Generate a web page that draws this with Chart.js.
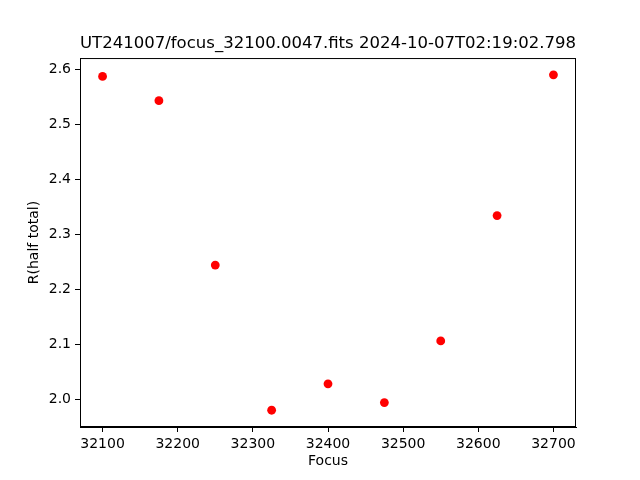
<!DOCTYPE html>
<html>
<head>
<meta charset="utf-8">
<script src="https://cdn.jsdelivr.net/npm/chart.js@4"></script>
<style>
  body { margin: 0; background: #fff; }
</style>
</head>
<body>
<canvas id="focus" width="640" height="480"></canvas>
<script>
// focus positions and measured half-total radius
const focus = [32100, 32175, 32250, 32325, 32400, 32475, 32550, 32625, 32700];
const rHalf = [2.587, 2.543, 2.244, 1.980, 2.028, 1.994, 2.106, 2.334, 2.590];
const xTicks = [32100, 32200, 32300, 32400, 32500, 32600, 32700];
const yTicks = [2.0, 2.1, 2.2, 2.3, 2.4, 2.5, 2.6];
const titleText = 'UT241007/focus_32100.0047.fits 2024-10-07T02:19:02.798';

Chart.defaults.font.family = 'DejaVu Sans';
Chart.defaults.color = '#000';

// matplotlib style box around the axes
const frame = {
    id: 'frame',
    afterDraw(chart) {
        const a = chart.chartArea;
        const c = chart.ctx;
        c.save();
        c.strokeStyle = '#000';
        c.lineWidth = 1;
        c.strokeRect(a.left + 0.5, a.top + 0.5, a.right - a.left - 1, a.bottom - a.top - 1);
        c.restore();
    }
};

const points = focus.map((f, i) => ({x: f, y: rHalf[i]}));

const ctx = document.getElementById('focus').getContext('2d');
const myChart = new Chart(ctx, {
    type: 'scatter',
    data: {
        datasets: [{
            data: points,
            backgroundColor: '#ff0000',
            borderWidth: 0,
            pointRadius: 4.4,
            pointHoverRadius: 4.4
        }]
    },
    options: {
        responsive: false,
        animation: false,
        layout: { padding: { left: 0, right: 64, top: 0, bottom: 0 } },
        plugins: {
            legend: { display: false },
            tooltip: { enabled: false },
            title: {
                display: true,
                text: titleText,
                fullSize: false,
                font: { size: 16.7, weight: 'normal' },
                padding: { top: 34, bottom: 4 }
            }
        },
        scales: {
            x: {
                type: 'linear',
                min: 32070,
                max: 32730,
                afterFit: s => { s.height = 53; },
                afterBuildTicks: s => { s.ticks = xTicks.map(v => ({value: v})); },
                ticks: {
                    font: { size: 14 },
                    padding: 4,
                    maxRotation: 0,
                    callback: v => String(v)
                },
                grid: { drawOnChartArea: false, drawTicks: true, tickLength: 5, color: '#000' },
                border: { color: '#000' },
                title: {
                    display: true,
                    text: 'Focus',
                    font: { size: 14 },
                    padding: { top: 0, bottom: 10 }
                }
            },
            y: {
                type: 'linear',
                min: 1.9495,
                max: 2.6205,
                afterFit: s => { s.width = 80; },
                afterBuildTicks: s => { s.ticks = yTicks.map(v => ({value: v})); },
                ticks: {
                    font: { size: 14 },
                    padding: 4,
                    callback: v => v.toFixed(1)
                },
                grid: { drawOnChartArea: false, drawTicks: true, tickLength: 5, color: '#000' },
                border: { color: '#000' },
                title: {
                    display: true,
                    text: 'R(half total)',
                    font: { size: 14 },
                    padding: { top: 26, bottom: 0 }
                }
            }
        }
    },
    plugins: [frame]
});
</script>
</body>
</html>
